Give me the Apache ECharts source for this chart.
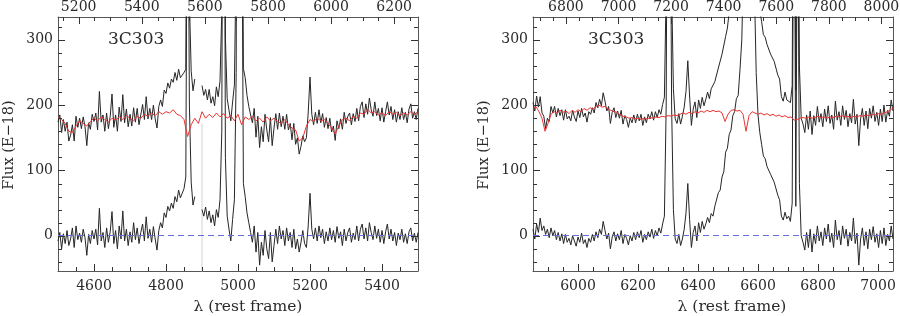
<!DOCTYPE html>
<html><head><meta charset="utf-8">
<script src="https://cdn.jsdelivr.net/npm/echarts@6/dist/echarts.min.js"></script>
<style>html,body{margin:0;padding:0;background:#fff}#c{width:900px;height:316px}</style>
</head><body><div id="c"></div>
<script>
// ---------------- data ----------------
const objectName = '3C303';
const yTitle = 'Flux (E\u221218)';
const xTitle = '\u03bb (rest frame)';

const leftRestRange = [4500, 5500];
const leftObsRange = [5134.5, 6275.5];
const rightRestRange = [5850, 7050];
const rightObsRange = [6674.85, 8044.05];
const fluxRange = [-54, 335];

const leftRestMajor = [4600, 4800, 5000, 5200, 5400];
const leftRestMinor = [4550, 4650, 4700, 4750, 4850, 4900, 4950, 5050, 5100, 5150, 5250, 5300, 5350, 5450];
const leftObsMajor = [5200, 5400, 5600, 5800, 6000, 6200];
const leftObsMinor = [5150, 5250, 5300, 5350, 5450, 5500, 5550, 5650, 5700, 5750, 5850, 5900, 5950, 6050, 6100, 6150, 6250];
const rightRestMajor = [6000, 6200, 6400, 6600, 6800, 7000];
const rightRestMinor = [5900, 5950, 6050, 6100, 6150, 6250, 6300, 6350, 6450, 6500, 6550, 6650, 6700, 6750, 6850, 6900, 6950];
const rightObsMajor = [6800, 7000, 7200, 7400, 7600, 7800, 8000];
const rightObsMinor = [6700, 6750, 6850, 6900, 6950, 7050, 7100, 7150, 7250, 7300, 7350, 7450, 7500, 7550, 7650, 7700, 7750, 7850, 7900, 7950];
const fluxMajor = [0, 100, 200, 300];
const fluxMinor = [-40, -20, 20, 40, 60, 80, 120, 140, 160, 180, 220, 240, 260, 280, 320];

// left panel: sampled every 5 A from 4500
const leftStart = 4500, leftStep = 5;
const leftTotal = [
174,185,158,178,160,174,145,154,170,145,
183,166,180,164,182,167,138,173,163,186,
175,188,162,221,174,185,160,188,164,183,
217,166,185,160,197,175,216,173,194,167,
186,168,196,174,195,170,185,201,178,213,
179,195,178,200,179,165,198,208,198,223,
218,234,226,240,235,250,238,255,242,246,
250,255,852,361,252,222,240,null,null,null,
230,215,224,208,224,203,213,199,228,213,
237,344,1287,303,210,192,176,205,231,431,
1986,3478,770,256,242,215,198,185,173,195,
151,183,135,167,144,186,162,144,181,138,
165,187,163,188,167,183,163,186,162,172,
147,172,140,150,125,137,153,144,150,188,
243,186,170,189,172,193,173,187,166,181,
164,180,159,168,146,176,164,179,163,189,
172,183,188,170,187,175,195,176,198,205,
181,202,186,211,193,183,205,184,195,176,
196,174,190,205,185,198,178,193,174,190,
178,196,178,189,173,194,202,180,190,178,
195];
const leftResidual = [
-8,5,-20,3,-12,8,-15,-5,12,-18,
15,-6,4,-10,10,-3,-30,2,-12,8,
-5,10,-14,42,-8,5,-18,12,-10,6,
37,-12,8,-20,15,-5,38,-8,10,-15,
6,-10,20,-6,12,-12,5,18,-8,29,
-4,10,-10,14,-5,-22,8,20,12,35,
28,45,38,50,42,60,52,70,58,65,
72,90,700,200,82,47,60,null,null,null,
40,30,44,25,38,20,32,15,40,28,
55,160,1100,120,30,10,-8,25,55,250,
1800,3300,600,80,60,35,20,5,-10,15,
-25,5,-45,-10,-30,8,-20,-35,5,-40,
-15,10,-12,15,-5,8,-15,12,-8,5,
-18,10,-20,-5,-25,-10,8,-12,-18,15,
65,10,-5,12,-8,15,-3,10,-12,6,
-8,12,-6,8,-10,14,-4,6,-15,10,
-8,5,12,-10,4,-6,15,-8,10,18,
-5,12,-8,20,5,-6,15,-4,10,-10,
8,-12,6,18,-5,10,-8,5,-15,4,
-6,10,-10,3,-12,6,12,-8,4,-10,
5];
// stellar template, every 10 A from 4500
const leftModelStart = 4500, leftModelStep = 10;
const leftModel = [
182,178,172,160,158,168,176,172,168,175,
180,176,182,178,174,180,177,182,178,184,
180,176,183,180,186,183,188,184,190,186,
190,188,193,186,184,178,152,170,180,172,
190,180,186,181,188,182,187,180,184,176,
186,170,182,178,183,176,180,174,182,176,
180,175,172,178,170,165,162,145,150,168,
178,175,180,176,178,172,165,156,168,178,
180,176,183,180,188,186,194,188,190,185,
188,184,190,186,189,184,188,185,190,186,
190];
const leftGapWave = [4900, 4900];
const leftGapFlux = [172, -60];

// right panel: sampled every 6 A from 5850
const rightStart = 5850, rightStep = 6;
const rightTotal = [
204,191,214,197,213,188,183,164,180,175,
198,188,198,182,195,184,193,177,193,179,
183,176,192,182,175,191,181,195,182,188,
174,190,186,196,188,204,196,209,199,219,
206,191,198,172,189,196,181,191,180,192,
171,184,178,166,180,173,185,173,186,176,
186,169,182,173,186,179,190,177,190,181,
193,186,201,212,383,1084,883,383,225,179,
172,187,171,183,197,221,268,214,169,194,
205,181,208,195,212,199,209,220,210,225,
222,236,238,257,260,278,278,305,318,343,
354,377,383,401,407,447,488,600,815,1768,
984,708,890,568,437,371,345,328,308,304,
293,293,278,281,267,267,246,240,213,206,
220,208,211,204,230,877,223,778,260,180,
171,158,185,163,191,155,184,169,198,174,
187,167,194,175,199,172,185,163,206,177,
190,169,199,178,192,167,187,173,209,171,
186,138,179,195,169,191,164,195,180,199,
175,189,169,194,175,200,174,192,183,208,
191];
const rightResidual = [
10,-5,18,5,27,8,15,2,10,-3,
12,0,8,-6,5,-8,3,-12,2,-10,
-4,-14,0,-8,-16,-2,-10,4,-12,-6,
-18,-4,-10,2,-8,6,-3,10,2,22,
8,-5,4,-20,-2,6,-8,3,-6,8,
-12,2,-4,-14,0,-8,5,-6,6,-3,
8,-10,2,-6,6,-2,10,-4,8,0,
12,4,18,30,200,900,700,200,40,-5,
-12,2,-15,-5,10,35,80,25,-18,5,
15,-8,20,5,22,10,18,28,20,34,
30,45,48,66,70,90,98,128,134,155,
162,184,190,210,215,255,300,420,650,1600,
800,520,700,380,250,185,158,140,122,118,
106,108,94,95,82,84,62,55,30,24,
36,26,30,22,50,700,45,600,80,0,
-10,-22,5,-18,10,-25,3,-12,15,-8,
6,-15,12,-5,18,-10,4,-18,24,-6,
8,-14,15,-4,10,-16,5,-8,27,-12,
4,-45,-5,12,-15,6,-20,10,-6,14,
-10,3,-18,8,-12,12,-15,2,-8,15,
-5];
const rightModelStart = 5850, rightModelStep = 10;
const rightModel = [
194,198,190,180,160,172,186,190,188,192,
189,191,187,192,189,193,190,195,192,196,
194,198,200,197,198,194,192,190,189,185,
183,182,180,181,179,180,178,180,179,181,
180,182,181,183,182,184,183,185,184,186,
188,186,189,187,190,188,191,189,192,190,
192,190,191,188,175,186,192,193,191,192,
186,160,184,190,188,186,188,185,187,184,
186,183,185,182,184,181,182,177,178,180,
181,180,182,180,181,183,181,182,180,182,
181,183,182,184,182,183,181,183,182,184,
183,185,184,186,185,187,186,188,190,192,
196];

// ---------------- styling ----------------
const FONT = 'DejaVu Serif';
const AXIS_COLOR = '#333';
const TEXT_COLOR = '#2a2a2a';
const SPEC_COLOR = '#262626';
const MODEL_COLOR = '#ee3333';
const ZERO_COLOR = '#6a6ae0';
const MAJOR_LEN = 7, MINOR_LEN = 4;

const grids = [
  {left: 58, top: 17, width: 360, height: 254, containLabel: false, outerBoundsMode: 'none'},
  {left: 533, top: 17, width: 360, height: 254, containLabel: false, outerBoundsMode: 'none'}
];

function axis(gridIndex, pos, range, major, showLabels, margin) {
  return {type: 'value', gridIndex: gridIndex, position: pos, min: range[0], max: range[1],
    splitLine: {show: false}, minorTick: {show: false}, axisPointer: {show: false},
    axisLine: {show: true, onZero: false, lineStyle: {color: '#555', width: 1}},
    axisTick: {show: false},
    axisLabel: {show: showLabels, customValues: major, margin: margin, color: TEXT_COLOR,
      fontFamily: FONT, fontSize: 14, formatter: function (v) { return String(v); }}
  };
}

// x axes: 0 left rest (bottom), 1 left observed (top), 2 right rest, 3 right observed
const xAxes = [
  axis(0, 'bottom', leftRestRange, leftRestMajor, true, 8),
  axis(0, 'top', leftObsRange, leftObsMajor, true, 3),
  axis(1, 'bottom', rightRestRange, rightRestMajor, true, 8),
  axis(1, 'top', rightObsRange, rightObsMajor, true, 3)
];
// y axes: 0 left panel left, 1 left panel right, 2 right panel left, 3 right panel right
const yAxes = [
  axis(0, 'left', fluxRange, fluxMajor, true, 5),
  axis(0, 'right', fluxRange, fluxMajor, false, 5),
  axis(1, 'left', fluxRange, fluxMajor, true, 5),
  axis(1, 'right', fluxRange, fluxMajor, false, 5)
];

function sampled(start, step, values) {
  return values.map(function (v, i) { return [start + i * step, v]; });
}
function lineSeries(xi, yi, data, color, z, extra) {
  return Object.assign({
    type: 'line', xAxisIndex: xi, yAxisIndex: yi, data: data,
    showSymbol: false, symbol: 'none', silent: true, animation: false, clip: true,
    connectNulls: false, z: z, lineStyle: {color: color, width: 1}
  }, extra || {});
}
function zeroLine() {
  return {silent: true, symbol: 'none', animation: false,
    label: {show: false}, lineStyle: {color: ZERO_COLOR, type: [6, 4], width: 1},
    data: [{yAxis: 0}]};
}

const series = [
  lineSeries(0, 0, leftGapWave.map(function (w, i) { return [w, leftGapFlux[i]]; }), '#d2d2d2', 1),
  lineSeries(0, 0, sampled(leftStart, leftStep, leftTotal), SPEC_COLOR, 2),
  lineSeries(0, 0, sampled(leftStart, leftStep, leftResidual), SPEC_COLOR, 2),
  lineSeries(0, 0, sampled(leftModelStart, leftModelStep, leftModel), MODEL_COLOR, 3),
  lineSeries(0, 0, [], ZERO_COLOR, 4, {markLine: zeroLine()}),
  lineSeries(2, 2, sampled(rightStart, rightStep, rightTotal), SPEC_COLOR, 2),
  lineSeries(2, 2, sampled(rightStart, rightStep, rightResidual), SPEC_COLOR, 2),
  lineSeries(2, 2, sampled(rightModelStart, rightModelStep, rightModel), MODEL_COLOR, 3),
  lineSeries(2, 2, [], ZERO_COLOR, 4, {markLine: zeroLine()})
];

function txt(x, y, text, size, align, rot) {
  return {type: 'text', x: x, y: y, rotation: rot || 0, silent: true, z: 100,
    style: {text: text, font: size + 'px "' + FONT + '"', fill: TEXT_COLOR,
      textAlign: align, textVerticalAlign: 'middle'}};
}

const chart = echarts.init(document.getElementById('c'), null, {renderer: 'canvas'});
chart.setOption({
  animation: false,
  backgroundColor: '#ffffff',
  grid: grids,
  xAxis: xAxes,
  yAxis: yAxes,
  series: series
});

// tick marks placed through the axes' own scales
const tickEls = [];
function xTicks(axisIdx, yAxisIdx, values, side, len) {
  const yEdge = chart.convertToPixel({yAxisIndex: yAxisIdx}, side === 'bottom' ? fluxRange[0] : fluxRange[1]);
  values.forEach(function (v) {
    const x = Math.round(chart.convertToPixel({xAxisIndex: axisIdx}, v)) + 0.5;
    const y0 = Math.round(yEdge);
    tickEls.push({type: 'line', silent: true, z: 50,
      shape: {x1: x, y1: y0, x2: x, y2: side === 'bottom' ? y0 - len : y0 + len},
      style: {stroke: AXIS_COLOR, lineWidth: 1}});
  });
}
function yTicks(yAxisIdx, xAxisIdx, xRange, values, side, len) {
  const xEdge = chart.convertToPixel({xAxisIndex: xAxisIdx}, side === 'left' ? xRange[0] : xRange[1]);
  values.forEach(function (v) {
    const y = Math.round(chart.convertToPixel({yAxisIndex: yAxisIdx}, v)) + 0.5;
    const x0 = Math.round(xEdge);
    tickEls.push({type: 'line', silent: true, z: 50,
      shape: {x1: x0, y1: y, x2: side === 'left' ? x0 + len : x0 - len, y2: y},
      style: {stroke: AXIS_COLOR, lineWidth: 1}});
  });
}
xTicks(0, 0, leftRestMajor, 'bottom', MAJOR_LEN);
xTicks(0, 0, leftRestMinor, 'bottom', MINOR_LEN);
xTicks(1, 0, leftObsMajor, 'top', MAJOR_LEN);
xTicks(1, 0, leftObsMinor, 'top', MINOR_LEN);
yTicks(0, 0, leftRestRange, fluxMajor, 'left', MAJOR_LEN);
yTicks(0, 0, leftRestRange, fluxMinor, 'left', MINOR_LEN);
yTicks(0, 0, leftRestRange, fluxMajor, 'right', MAJOR_LEN);
yTicks(0, 0, leftRestRange, fluxMinor, 'right', MINOR_LEN);
xTicks(2, 2, rightRestMajor, 'bottom', MAJOR_LEN);
xTicks(2, 2, rightRestMinor, 'bottom', MINOR_LEN);
xTicks(3, 2, rightObsMajor, 'top', MAJOR_LEN);
xTicks(3, 2, rightObsMinor, 'top', MINOR_LEN);
yTicks(2, 2, rightRestRange, fluxMajor, 'left', MAJOR_LEN);
yTicks(2, 2, rightRestRange, fluxMinor, 'left', MINOR_LEN);
yTicks(2, 2, rightRestRange, fluxMajor, 'right', MAJOR_LEN);
yTicks(2, 2, rightRestRange, fluxMinor, 'right', MINOR_LEN);

chart.setOption({
  graphic: [
    txt(108, 40, objectName, 17, 'left'),
    txt(588, 40, objectName, 17, 'left'),
    txt(9, 145, yTitle, 14.5, 'center', Math.PI / 2),
    txt(484, 145, yTitle, 14.5, 'center', Math.PI / 2),
    txt(248, 307, xTitle, 15.5, 'center'),
    txt(732, 307, xTitle, 15.5, 'center')
  ].concat(tickEls)
});
</script>
</body></html>
